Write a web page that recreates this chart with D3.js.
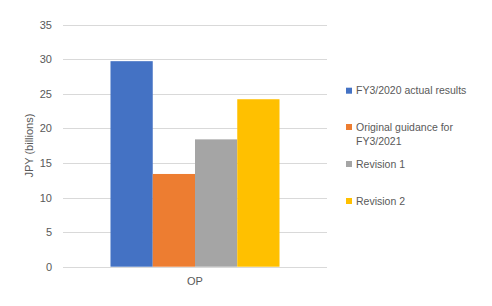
<!DOCTYPE html>
<html><head><meta charset="utf-8">
<script src="https://cdn.jsdelivr.net/npm/d3@7"></script>
<style>body{margin:0;background:#fff}text{font-family:"Liberation Sans",Arial,sans-serif;fill:#595959}</style>
</head><body><svg id="c" width="492" height="306"></svg>
<script>
const categories = ["OP"];
const seriesNames = ["FY3/2020 actual results", "Original guidance for FY3/2021", "Revision 1", "Revision 2"];
const seriesLegendLines = [["FY3/2020 actual results"], ["Original guidance for", "FY3/2021"], ["Revision 1"], ["Revision 2"]];
const seriesValues = [29.7, 13.4, 18.4, 24.2];
const seriesColors = ["#4472c4", "#ed7d31", "#a5a5a5", "#ffc000"];
const yTicks = [0, 5, 10, 15, 20, 25, 30, 35];

(function () {
const svg = d3.select("#c");
const pL = 63, pR = 327, pT = 24.5, pB = 266.7;
const y = d3.scaleLinear().domain([0, 35]).range([pB, pT]);
const x = d3.scaleBand().domain(categories).range([pL, pR]).paddingInner(0).paddingOuter(0.281);
const xs = d3.scaleBand().domain(seriesNames).range([0, x.bandwidth()]);

svg.append("g").selectAll("line").data(yTicks).join("line")
  .attr("x1", pL).attr("x2", pR)
  .attr("y1", d => Math.round(y(d)) + 0.5).attr("y2", d => Math.round(y(d)) + 0.5)
  .attr("stroke", "#d9d9d9").attr("stroke-width", 1);

const yAxis = d3.axisLeft(y).tickValues(yTicks).tickSize(0).tickPadding(0);
const ga = svg.append("g").attr("transform", `translate(${pL - 11},0)`).call(yAxis);
ga.select(".domain").remove();
ga.selectAll("text").attr("font-size", "11px").attr("fill", "#595959").style("font-family", "Liberation Sans, Arial, sans-serif");

categories.forEach(cat => {
  svg.append("g").selectAll("rect").data(seriesNames).join("rect")
    .attr("x", d => x(cat) + xs(d))
    .attr("width", xs.bandwidth())
    .attr("y", (d, i) => y(seriesValues[i]))
    .attr("height", (d, i) => y(0) - y(seriesValues[i]))
    .attr("fill", (d, i) => seriesColors[i]);
});

const xAxis = d3.axisBottom(x).tickSize(0).tickPadding(0);
const gx = svg.append("g").attr("transform", `translate(0,${pB + 10})`).call(xAxis);
gx.select(".domain").remove();
gx.selectAll("text").attr("font-size", "11px").attr("fill", "#595959").style("font-family", "Liberation Sans, Arial, sans-serif");

svg.append("text").attr("transform", `translate(33,${(pT + pB) / 2}) rotate(-90)`)
  .attr("text-anchor", "middle").attr("font-size", "11px").text("JPY (billions)");

const legY = [90.7, 127, 164, 201];
const lg = svg.append("g");
seriesNames.forEach((s, i) => {
  lg.append("rect").attr("x", 346).attr("y", legY[i] - 3).attr("width", 6).attr("height", 6).attr("fill", seriesColors[i]);
  seriesLegendLines[i].forEach((ln, j) => {
    lg.append("text").attr("x", 356).attr("y", legY[i] + j * 14.7).attr("dy", "0.35em")
      .attr("font-size", "10.5px").text(ln);
  });
});
})();
</script></body></html>
